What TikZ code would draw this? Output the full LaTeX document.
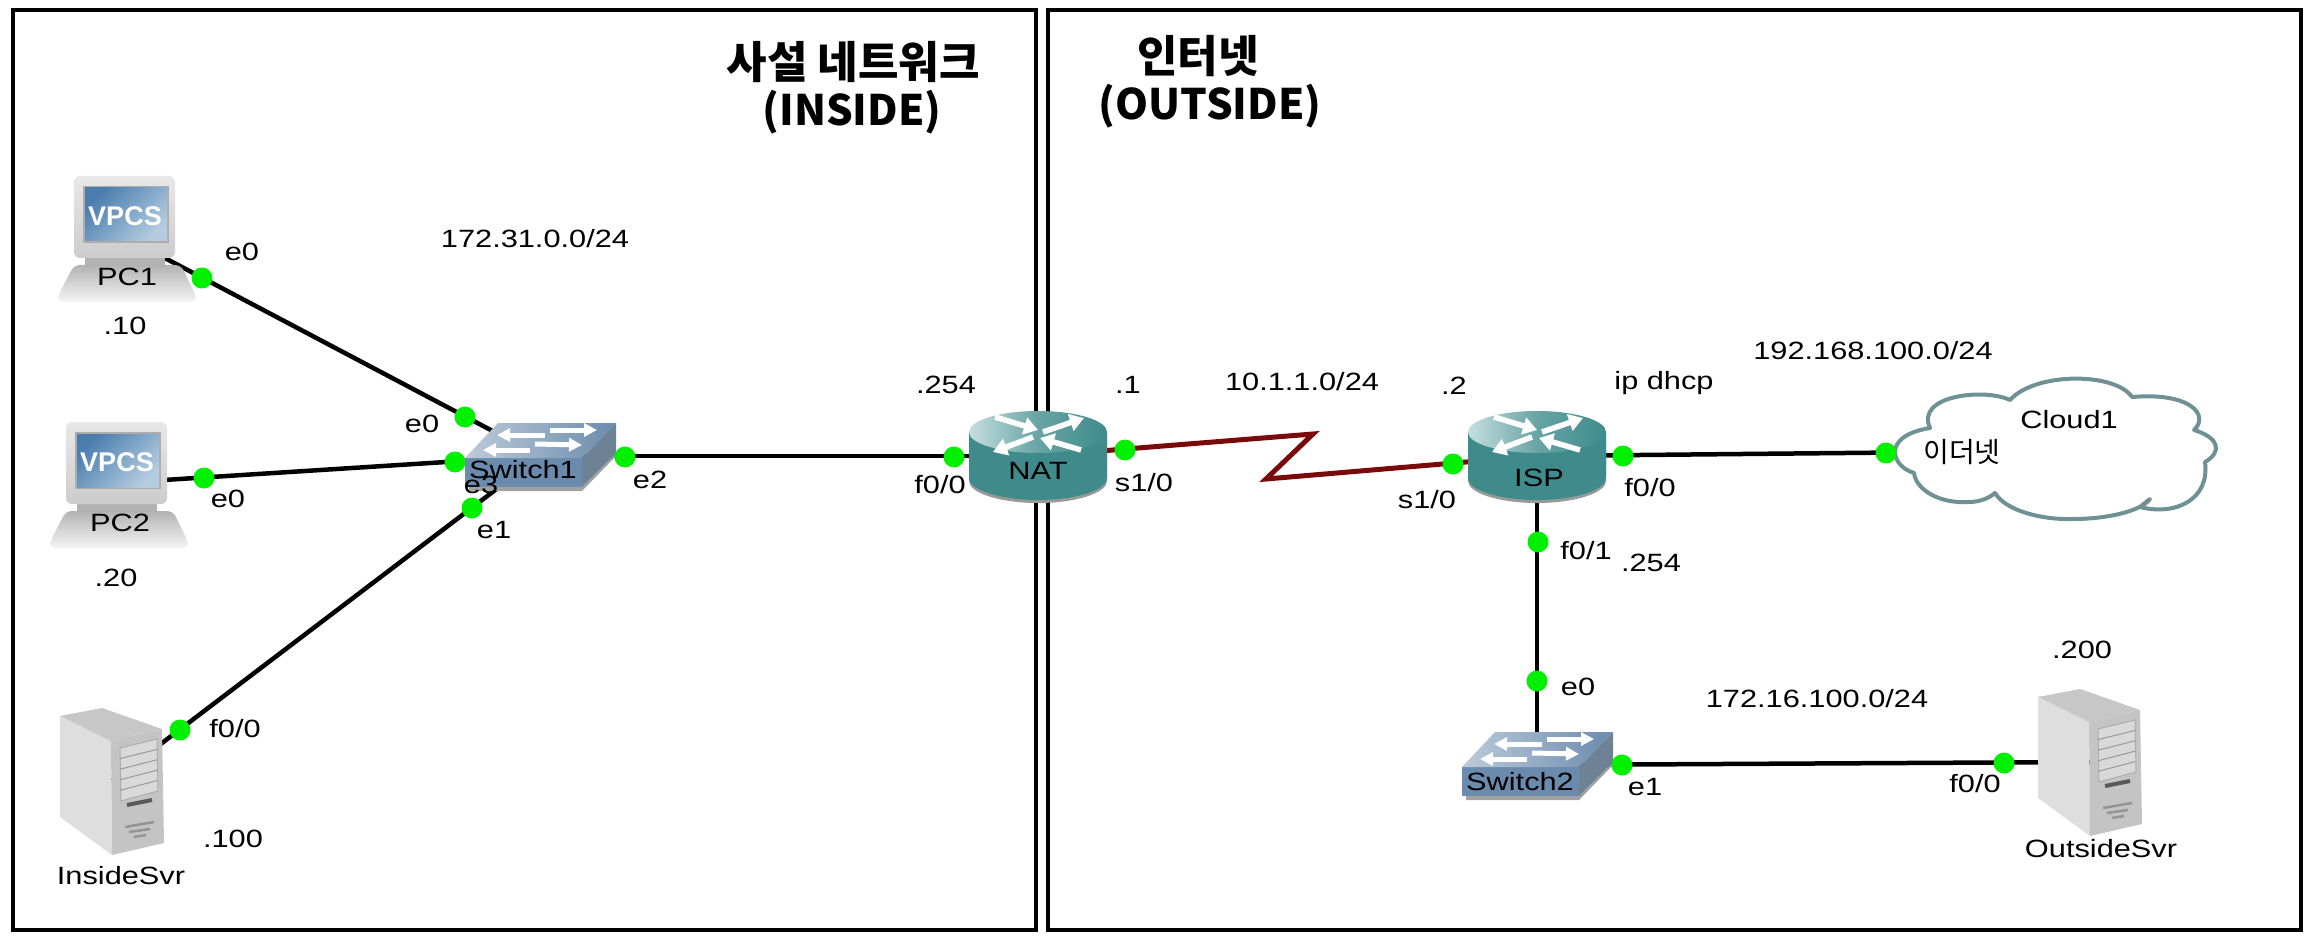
\documentclass[tikz,border=0pt]{standalone}
\usepackage{fontspec}
\setmainfont[FakeStretch=1.23]{Liberation Sans}
\newfontfamily\krfont{Noto Sans CJK KR}
\newfontfamily\vpfont{Liberation Sans}
\usetikzlibrary{arrows.meta}
\definecolor{portgreen}{HTML}{00F000}
\definecolor{serialred}{HTML}{7A0A0A}
\definecolor{routerteal}{HTML}{3F8B8C}
\definecolor{cloudline}{HTML}{6F9196}
\definecolor{swfront}{HTML}{6A8BAD}
\definecolor{swside}{HTML}{6E8296}
\definecolor{vpblue}{HTML}{4A7DAE}
\definecolor{vplight}{HTML}{B4CCE0}
\definecolor{swleft}{HTML}{BCCBDA}
\definecolor{rtlight}{HTML}{C6DEDE}

\begin{document}
\begin{tikzpicture}[x=1pt, y=-1pt,
  rtarrow/.style={-{Triangle[length=14pt, width=17pt]}, white, line width=5.5pt},
  swarrow/.style={-{Triangle[length=13pt, width=13pt]}, white, line width=5pt},
  hub/.style={inner sep=0pt, minimum size=0pt},
  tx/.style={inner sep=0pt, font=\fontsize{25}{30}\selectfont},
  krttl/.style={inner sep=0pt, font=\fontsize{44}{50}\selectfont\krfont\bfseries},
  ttl/.style={inner sep=0pt, font=\fontsize{42}{50}\selectfont\krfont\bfseries},
  port/.style={circle, fill=portgreen, inner sep=0pt, minimum size=21pt},
  panel/.style={draw=black, line width=4.5pt},
  link/.style={draw=black, line width=4.5pt},
  serial/.style={draw=serialred, line width=5pt},
  pcicon/.pic={
    \shade[rounded corners=6pt, top color=black!30, bottom color=black!4]
      (-51,28) -- (-40,28) -- (56,28) -- (71,59) -- (71,65) -- (-67,65) -- (-67,59) -- cycle;
    \fill[black!30] (-40,20) rectangle (40,29);
    \shade[rounded corners=6pt, top color=black!9, bottom color=black!20]
      (-51,-61) rectangle (50,21);
    \fill[black!32] (-42,-51) rectangle (44,6);
    \shade[left color=vpblue, middle color=vpblue, right color=vplight, shading angle=45]
      (-40,-49) rectangle (42,4);
    \node[inner sep=0pt, text=white, font=\fontsize{27}{30}\selectfont\vpfont\bfseries] (-vpcs) at (0,-21) {VPCS};
  },
  swicon/.pic={
    \fill[black!37] (-71,31) -- (42,31) -- (76,-3) -- (76,0) -- (42,35) -- (-71,35) -- cycle;
    \fill[swside] (76,-33) -- (76,-3) -- (42,31) -- (42,2) -- cycle;
    \fill[swfront] (-75,2) rectangle (42,31);
    \shade[left color=swleft, right color=swfront] (-42,-33) -- (76,-33) -- (42,2) -- (-75,2) -- cycle;
    \draw[swarrow] (5,-21) -- (-43,-21);
    \draw[swarrow] (10,-26) -- (57,-26);
    \draw[swarrow] (-10,-6) -- (-57,-6);
    \draw[swarrow] (-5,-12) -- (42,-11);
  },
  rticon/.pic={
    \fill[black!40] (-69,-20) -- (-69,25) .. controls (-69,37) and (-38,47) .. (0,47)
      .. controls (38,47) and (69,37) .. (69,25) -- (69,-20) -- cycle;
    \fill[routerteal] (-69,-24) -- (-69,22) .. controls (-69,34) and (-38,44) .. (0,44)
      .. controls (38,44) and (69,34) .. (69,22) -- (69,-24) -- cycle;
    \shade[left color=rtlight, right color=routerteal, middle color=routerteal!70!rtlight]
      (0,-24) ellipse [x radius=69, y radius=21];
    \draw[rtarrow] (-43,-39) -- (0,-26);
    \draw[rtarrow] (5,-24) -- (46,-38);
    \draw[rtarrow] (-5,-19) -- (-45,-4);
    \draw[rtarrow] (43,-6) -- (2,-18);
  },
  svicon/.pic={
    \fill[black!13] (-52,-65) -- (-1,-40) -- (0,74) -- (-52,36) -- cycle;
    \fill[black!22] (-52,-65) -- (-10,-73) -- (50,-52) -- (-1,-40) -- cycle;
    \fill[black!23] (-1,-40) -- (50,-52) -- (52,62) -- (0,74) -- cycle;
    \draw[black!32, fill=black!15, line width=1pt] (8,-33) -- (45,-42) -- (46,10) -- (9,20) -- cycle;
    \foreach \k in {1,2,3,4}
      \draw[black!40, line width=1pt] (8,-33+10.6*\k) -- (45,-42+10.4*\k);
    \draw[black!65, line width=4pt] (15,24) -- (40,19);
    \draw[black!42, line width=2.5pt] (13,46) -- (42,41);
    \draw[black!42, line width=2.5pt] (17,51) -- (38,48);
    \draw[black!42, line width=2.5pt] (22,56) -- (34,54);
  }]

  \path[use as bounding box, fill=white] (0,0) rectangle (2314,941);
  \draw[panel] (13,10) rectangle (1036,930);
  \draw[panel] (1048,10) rectangle (2301,930);

  \node[hub] (pc1) at (125,237) {};
  \node[hub] (pc2) at (117,483) {};
  \node[hub] (insvr) at (112,781) {};
  \node[hub] (sw1) at (540,456) {};
  \node[hub] (nat) at (1038,456) {};
  \node[hub] (isp) at (1537,456) {};
  \node[hub] (cloud) at (2050,451) {};
  \node[hub] (sw2) at (1537,765) {};
  \node[hub] (outsvr) at (2090,762) {};
  \coordinate (zig1) at (1313,434);
  \coordinate (zig2) at (1266,479);

  \draw[link] (pc1) -- (sw1);
  \draw[link] (pc2) -- (sw1);
  \draw[link] (insvr) -- (sw1);
  \draw[link] (sw1) -- (nat);
  \draw[serial] (nat) -- (zig1) -- (zig2) -- (isp);
  \draw[link] (isp) -- (cloud);
  \draw[link] (isp) -- (sw2);
  \draw[link] (sw2) -- (outsvr);

  \pic (pc1i) at (pc1) {pcicon};
  \pic (pc2i) at (pc2) {pcicon};
  \pic (insvri) at (insvr) {svicon};
  \pic (outsvri) at (outsvr) {svicon};
  \pic (sw1i) at (sw1) {swicon};
  \pic (sw2i) at (sw2) {swicon};
  \pic (nati) at (nat) {rticon};
  \pic (ispi) at (isp) {rticon};

  \draw[draw=cloudline, fill=white, line width=4pt, line join=round]
    (1930,428) .. controls (1905,432) and (1895,442) .. (1895,452)
    .. controls (1895,462) and (1904,470) .. (1914,473)
    .. controls (1916,490) and (1940,504) .. (1969,502)
    .. controls (1978,502) and (1988,499) .. (1995,493)
    .. controls (2005,510) and (2040,520) .. (2073,519)
    .. controls (2105,519) and (2140,512) .. (2150,499)
    .. controls (2142,505) and (2140,507) .. (2140,507)
    .. controls (2175,516) and (2210,500) .. (2205,462)
    .. controls (2222,452) and (2220,438) .. (2194,430)
    .. controls (2210,415) and (2190,392) .. (2132,397)
    .. controls (2115,372) and (2035,372) .. (2010,400)
    .. controls (1985,388) and (1915,395) .. (1930,428) -- cycle;

  \node[port] (d1) at (202,278) {};
  \node[port] (d2) at (465,417) {};
  \node[port] (d3) at (204,478) {};
  \node[port] (d4) at (455,462) {};
  \node[port] (d5) at (472,508) {};
  \node[port] (d6) at (180,730) {};
  \node[port] (d7) at (625,457) {};
  \node[port] (d8) at (954,457) {};
  \node[port] (d9) at (1125,450) {};
  \node[port] (d10) at (1453,464) {};
  \node[port] (d11) at (1623,456) {};
  \node[port] (d12) at (1886,453) {};
  \node[port] (d13) at (1538,542) {};
  \node[port] (d14) at (1537,681) {};
  \node[port] (d15) at (1622,765) {};
  \node[port] (d16) at (2004,763) {};

  \node[krttl] (t1) at (853,62) {사설 네트워크};
  \node[ttl] (t2) at (852,112) {(INSIDE)};
  \node[krttl] (t3) at (1198,56) {인터넷};
  \node[ttl] (t4) at (1210,106) {(OUTSIDE)};

  \node[tx] (l1) at (127,277) {PC1};
  \node[tx] (l2) at (125,326) {.10};
  \node[tx] (l3) at (242,252) {e0};
  \node[tx] (l4) at (535,239) {172.31.0.0/24};
  \node[tx] (l5) at (422,424) {e0};
  \node[tx] (l6) at (120,523) {PC2};
  \node[tx] (l7) at (116,578) {.20};
  \node[tx] (l8) at (228,499) {e0};
  \node[tx] (l9) at (481,485) {e3};
  \node[tx] (l10) at (523,470) {Switch1};
  \node[tx] (l11) at (494,530) {e1};
  \node[tx] (l12) at (650,480) {e2};
  \node[tx] (l13) at (235,729) {f0/0};
  \node[tx] (l14) at (233,839) {.100};
  \node[tx] (l15) at (121,876) {InsideSvr};
  \node[tx] (l16) at (946,385) {.254};
  \node[tx] (l17) at (940,485) {f0/0};
  \node[tx] (l18) at (1038,471) {NAT};
  \node[tx] (l19) at (1128,385) {.1};
  \node[tx] (l20) at (1144,483) {s1/0};
  \node[tx] (l21) at (1302,382) {10.1.1.0/24};
  \node[tx] (l22) at (1454,386) {.2};
  \node[tx] (l23) at (1427,500) {s1/0};
  \node[tx] (l24) at (1539,478) {ISP};
  \node[tx] (l25) at (1650,488) {f0/0};
  \node[tx] (l26) at (1664,383) {ip dhcp};
  \node[tx] (l27) at (1873,351) {192.168.100.0/24};
  \node[tx] (l28) at (2069,420) {Cloud1};
  \node[tx, font=\fontsize{28}{30}\selectfont\krfont] (l29) at (1962,452) {이더넷};
  \node[tx] (l30) at (1586,551) {f0/1};
  \node[tx] (l31) at (1651,563) {.254};
  \node[tx] (l32) at (1578,687) {e0};
  \node[tx] (l33) at (1520,782) {Switch2};
  \node[tx] (l34) at (1645,787) {e1};
  \node[tx] (l35) at (1817,699) {172.16.100.0/24};
  \node[tx] (l36) at (1975,784) {f0/0};
  \node[tx] (l37) at (2082,650) {.200};
  \node[tx] (l38) at (2101,849) {OutsideSvr};
\end{tikzpicture}
\end{document}
